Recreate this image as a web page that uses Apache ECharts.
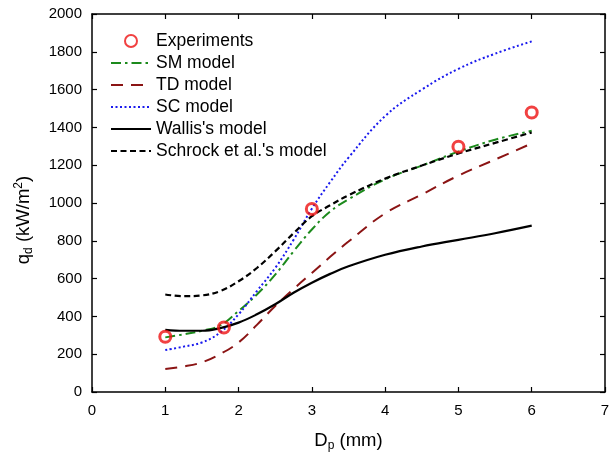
<!DOCTYPE html>
<html>
<head>
<meta charset="utf-8">
<script src="https://cdn.jsdelivr.net/npm/echarts@6/dist/echarts.min.js"></script>
<style>
  html, body { margin: 0; padding: 0; background: #fff; }
  #chart { width: 616px; height: 457px; }
</style>
</head>
<body>
<div id="chart"></div>
<script>
// droplet diameter (mm) for the model curves
const xModel = [1, 1.25, 1.5, 1.75, 2, 2.25, 2.5, 2.75, 3, 3.25, 3.5, 4, 4.5, 5, 5.5, 6];
const smModel = [289, 305, 324, 352, 429, 516, 621, 744, 860, 955, 1020, 1125, 1198, 1272, 1335, 1382];
const tdModel = [122, 135, 157, 201, 262, 355, 455, 545, 630, 715, 796, 945, 1045, 1145, 1230, 1315];
const scModel = [222, 240, 262, 315, 411, 534, 656, 805, 970, 1111, 1240, 1460, 1600, 1710, 1790, 1855];
const wallisModel = [329, 324, 324, 338, 367, 411, 464, 525, 578, 625, 665, 726, 770, 805, 840, 880];
const schrockModel = [516, 507, 511, 534, 586, 656, 744, 840, 930, 988, 1041, 1129, 1198, 1262, 1318, 1373];

const xExp = [1, 1.8, 3, 5, 6];
const yExp = [292, 341, 968, 1298, 1479];

const xTicks = [0, 1, 2, 3, 4, 5, 6, 7];
const yTicks = [0, 200, 400, 600, 800, 1000, 1200, 1400, 1600, 1800, 2000];

const pairs = (xs, ys) => xs.map((x, i) => [x, ys[i]]);

const chart = echarts.init(document.getElementById("chart"));

const font = "Liberation Sans, Arial, sans-serif";
const axisBase = {
  type: "value",
  axisLine: { show: true, onZero: false, lineStyle: { color: "#000", width: 1.5 } },
  axisTick: { show: true, inside: true, length: 5, lineStyle: { color: "#000", width: 1.2 } },
  splitLine: { show: false },
};

function lineSeries(name, ys, color, type, width) {
  return {
    name: name,
    type: "line",
    data: pairs(xModel, ys),
    smooth: 0.4,
    symbol: "none",
    lineStyle: { color: color, width: width, type: type },
    itemStyle: { color: color },
  };
}

// hide the dot that line series put in the middle of their legend icon
const noDot = { color: "rgba(0,0,0,0)", borderWidth: 0 };

const option = {
  backgroundColor: "#fff",
  animation: false,
  grid: { left: 92, right: 11, top: 14, bottom: 62 },
  legend: {
    orient: "vertical",
    left: 105,
    top: 27,
    itemWidth: 40,
    itemHeight: 12,
    itemGap: 4,
    textStyle: { fontFamily: font, fontSize: 17.5, color: "#000", lineHeight: 18 },
    data: [
      { name: "Experiments" },
      { name: "SM model", itemStyle: noDot },
      { name: "TD model", itemStyle: noDot },
      { name: "SC model", itemStyle: noDot },
      { name: "Wallis's model", itemStyle: noDot },
      { name: "Schrock et al.'s model", itemStyle: noDot },
    ],
  },
  xAxis: [
    Object.assign({}, axisBase, {
      min: xTicks[0], max: xTicks[xTicks.length - 1], interval: 1,
      axisLabel: { margin: 11, fontFamily: font, fontSize: 15, color: "#000" },
      name: "{a|D}{s|p}{a| (mm)}",
      nameLocation: "middle",
      nameGap: 37,
      nameTextStyle: {
        rich: {
          a: { fontFamily: font, fontSize: 18.5, color: "#000" },
          s: { fontFamily: font, fontSize: 12, color: "#000", padding: [11, 0, 0, 0] },
        },
      },
    }),
    Object.assign({}, axisBase, {
      position: "top",
      min: xTicks[0], max: xTicks[xTicks.length - 1], interval: 1,
      axisLabel: { show: false },
    }),
  ],
  yAxis: [
    Object.assign({}, axisBase, {
      min: yTicks[0], max: yTicks[yTicks.length - 1], interval: 200,
      axisLabel: { margin: 10, fontFamily: font, fontSize: 15, color: "#000", formatter: (v) => String(v) },
      name: "{a|q}{s|d}{a| (kW/m}{p|2}{a|)}",
      nameLocation: "middle",
      nameGap: 57,
      nameRotate: 90,
      nameTextStyle: {
        padding: [0, 34, 0, 0],
        rich: {
          a: { fontFamily: font, fontSize: 18.5, color: "#000" },
          s: { fontFamily: font, fontSize: 12, color: "#000", padding: [11, 0, 0, 0] },
          p: { fontFamily: font, fontSize: 12, color: "#000", padding: [0, 0, 9, 0] },
        },
      },
    }),
    Object.assign({}, axisBase, {
      position: "right",
      min: yTicks[0], max: yTicks[yTicks.length - 1], interval: 200,
      axisLabel: { show: false },
    }),
  ],
  series: [
    {
      name: "Experiments",
      type: "scatter",
      data: pairs(xExp, yExp),
      symbol: "circle",
      symbolSize: 11,
      z: 3,
      itemStyle: { color: "rgba(255,255,255,0)", borderColor: "#ee1111", borderWidth: 3 },
    },
    lineSeries("SM model", smModel, "#1c8a1c", [10, 4, 2.5, 4], 2),
    lineSeries("TD model", tdModel, "#8b1414", [12, 8], 2),
    lineSeries("SC model", scModel, "#1a1aee", [2, 2.5], 2),
    lineSeries("Wallis's model", wallisModel, "#000", "solid", 2.2),
    lineSeries("Schrock et al.'s model", schrockModel, "#000", [6, 3.5], 2.2),
  ],
};

chart.setOption(option);
</script>
</body>
</html>
